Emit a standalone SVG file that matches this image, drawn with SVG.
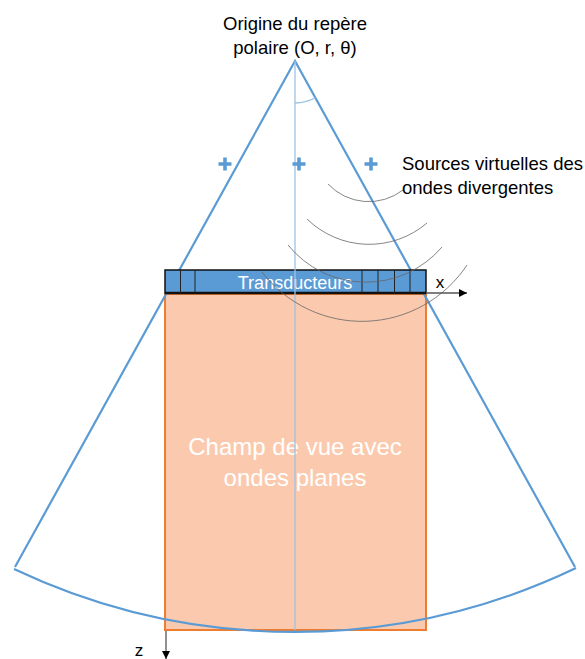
<svg xmlns="http://www.w3.org/2000/svg" width="585" height="659" viewBox="0 0 585 659">
<style>
.t{font-family:"Liberation Sans",Arial,sans-serif;fill:#000}
.w{font-family:"Liberation Sans",Arial,sans-serif;fill:#fff}
.cone{fill:none;stroke:#5b9bd5;stroke-width:2.2}
.wave{fill:none;stroke:#666;stroke-width:0.8}
.cross{stroke:#5b9bd5;stroke-width:3.6;fill:none}
.ax{stroke:#555;stroke-width:1.3;fill:none}
.cell{stroke:#222;stroke-width:1}
</style>
<defs>
<marker id="arr" viewBox="0 0 10 10" refX="10" refY="5" markerWidth="8" markerHeight="8" markerUnits="userSpaceOnUse" orient="auto">
<path d="M0,0 L10,5 L0,10 z" fill="#000"/>
</marker>
</defs>
<g id="field">
<rect x="165" y="294" width="261" height="336" fill="#fbcaae" stroke="#ed7d31" stroke-width="2"/>
<text class="w" x="295" y="455" font-size="24" text-anchor="middle">Champ de vue avec</text>
<text class="w" x="295" y="486" font-size="24" text-anchor="middle">ondes planes</text>
</g>
<g id="cone">
<path class="cone" d="M15,567 L295,61 L575,567"/>
<path class="cone" d="M14,569 A654,654 0 0 0 576,568"/>
</g>
<g id="transducers">
<rect x="165" y="270" width="261" height="23" fill="#5b9bd5" stroke="#111" stroke-width="1.5"/>
<line x1="165" y1="293" x2="426" y2="293" stroke="#111" stroke-width="2.5"/>
<line class="cell" x1="180.5" y1="270" x2="180.5" y2="293"/>
<line class="cell" x1="195" y1="270" x2="195" y2="293"/>
<line class="cell" x1="362" y1="270" x2="362" y2="293"/>
<line class="cell" x1="378" y1="270" x2="378" y2="293"/>
<line class="cell" x1="394.5" y1="270" x2="394.5" y2="293"/>
<line class="cell" x1="410" y1="270" x2="410" y2="293"/>
<text class="w" x="295" y="289" font-size="18" text-anchor="middle">Transducteurs</text>
</g>
<g id="axis-center">
<line x1="295" y1="61" x2="295" y2="630" stroke="#9dc3e6" stroke-width="1.3"/>
<path d="M295,103 A42,42 0 0 0 315.3,97.8" fill="none" stroke="#9dc3e6" stroke-width="1.3"/>
</g>
<g id="sources">
<path class="cross" d="M218.5,164 h13 M225,157.5 v13"/>
<path class="cross" d="M292.5,164 h13 M299,157.5 v13"/>
<path class="cross" d="M364.5,164 h13 M371,157.5 v13"/>
</g>
<g id="connectors">
<path class="wave" d="M328,184 A56,56 0 0 0 403,190"/>
<path class="wave" d="M307,219 A89,89 0 0 0 427,223"/>
<path class="wave" d="M288,245 A100,100 0 0 0 442,247"/>
<path class="wave" d="M262,272 A126,126 0 0 0 467,265"/>
<line class="ax" x1="426" y1="293" x2="467" y2="293" marker-end="url(#arr)"/>
<line class="ax" x1="166" y1="631" x2="166" y2="659" marker-end="url(#arr)"/>
</g>
<g id="labels">
<text class="t" x="295" y="30" font-size="18.5" text-anchor="middle">Origine du repère</text>
<text class="t" x="295" y="54" font-size="18.5" text-anchor="middle">polaire (O, r, θ)</text>
<text class="t" x="402" y="170" font-size="18.5">Sources virtuelles des</text>
<text class="t" x="402" y="194" font-size="18.5">ondes divergentes</text>
<text class="t" x="440" y="288" font-size="17" text-anchor="middle">x</text>
<text class="t" x="139" y="656" font-size="17" text-anchor="middle">z</text>
</g>
</svg>
